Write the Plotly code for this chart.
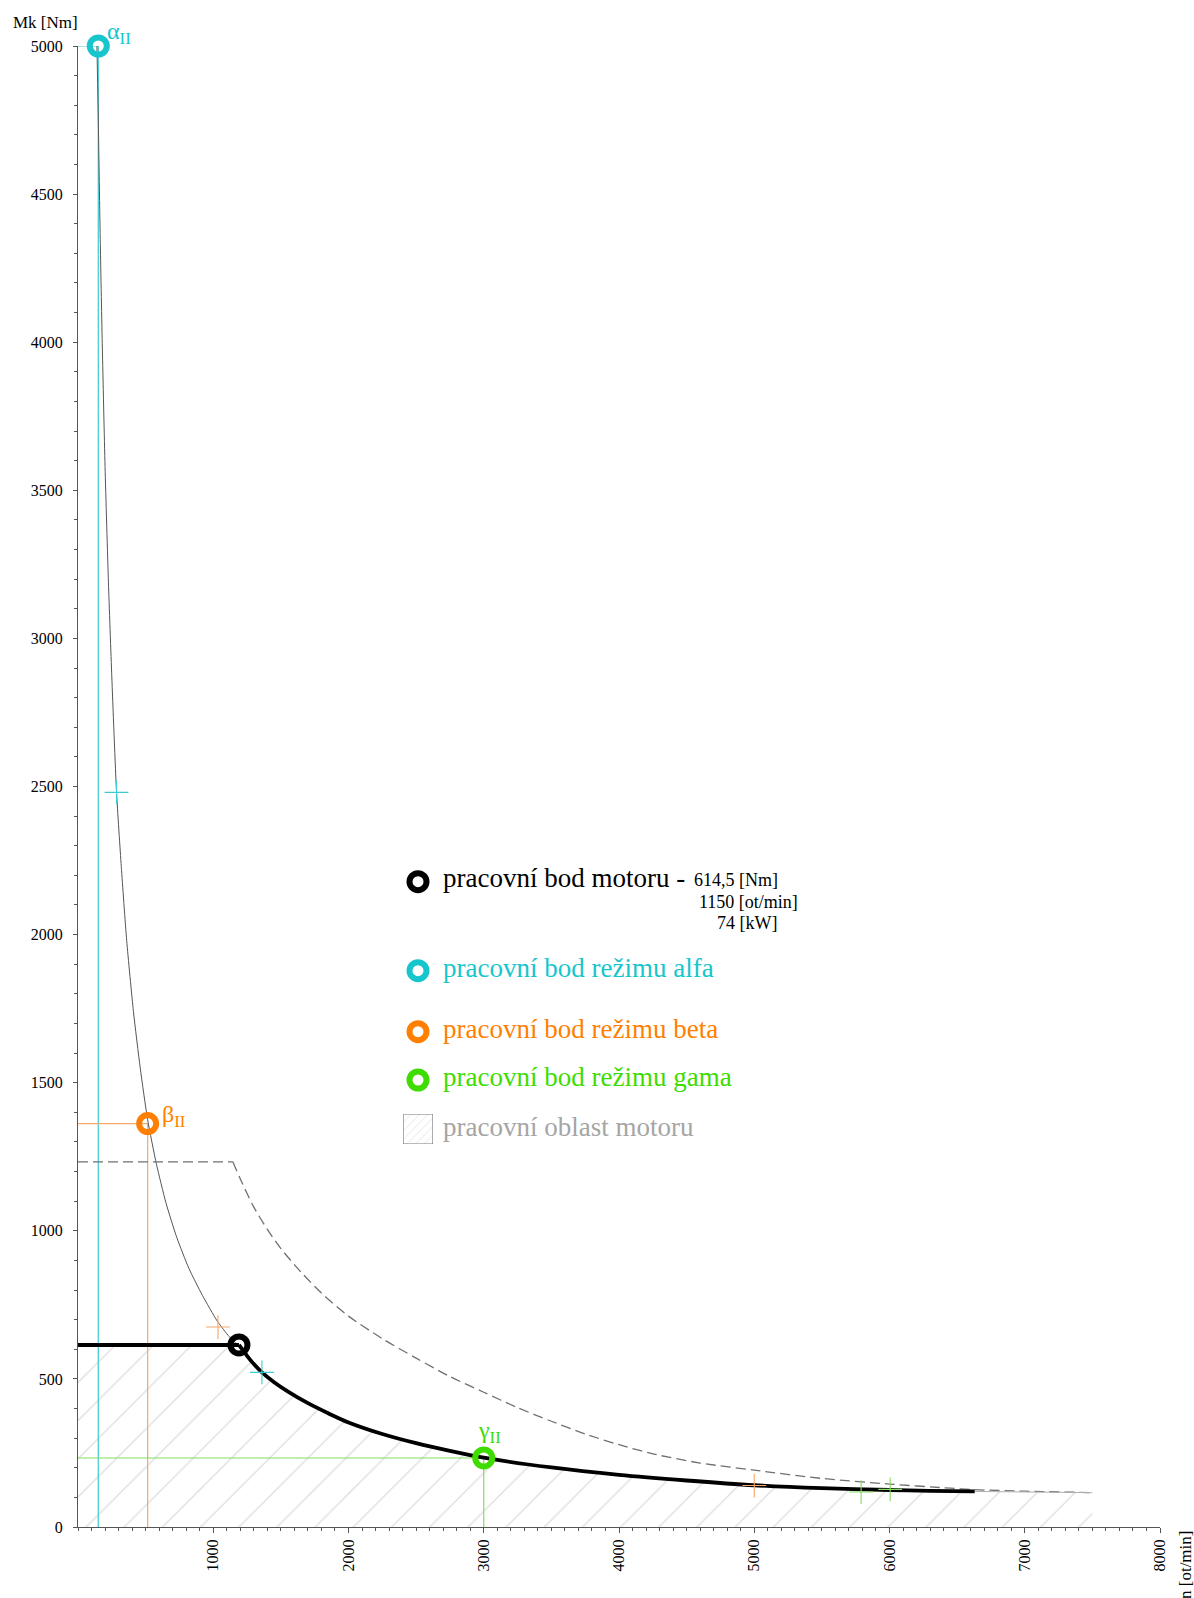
import plotly.graph_objects as go

# ---------------- data ----------------
x_tick_vals = [1000, 2000, 3000, 4000, 5000, 6000, 7000, 8000]
y_tick_vals = [0, 500, 1000, 1500, 2000, 2500, 3000, 3500, 4000, 4500, 5000]

# working points [ot/min, Nm]
alpha_pt = (150, 5000)
beta_pt = (515, 1362)
gamma_pt = (3000, 233)
motor_pt = (1190, 614.5)

# thin curve (constant power through the working points)
thin_n = [140, 150, 165, 180, 200, 225, 250, 285, 320, 360, 410, 460, 515, 580, 650, 730, 820, 920, 1030, 1120, 1190]
thin_M = [5000, 4750, 4330, 3980, 3580, 3190, 2870, 2480, 2230, 1980, 1740, 1550, 1375, 1225, 1095, 978, 873, 782, 695, 642, 612]

# motor characteristic (thick)
thick_flat_n = [0, 1190]
thick_flat_M = [614.5, 614.5]
thick_n = [1190, 1250, 1300, 1360, 1450, 1550, 1700, 1850, 2000, 2250, 2500, 2750, 3000, 3500, 4000, 4500, 5000, 5500, 6000, 6300, 6630]
thick_M = [614.5, 578, 550, 522, 489, 458, 418, 384, 353, 314, 283, 257, 234, 201, 176, 157, 141, 131, 125, 122, 120]

# extension of the working region to the max speed
ext_n = [6630, 7500]
ext_M = [120, 116]

# dashed maximum characteristic
dash_flat_n = [0, 1145]
dash_flat_M = [1233, 1233]
dash_n = [1145, 1200, 1300, 1400, 1500, 1650, 1800, 2000, 2250, 2500, 2750, 3000, 3250, 3500, 3750, 4000, 4250, 4600, 5000, 5500, 6000, 6450, 6630, 7000, 7500]
dash_M = [1233, 1175, 1080, 1005, 940, 860, 790, 712, 636, 570, 508, 455, 403, 357, 314, 278, 247, 216, 192, 164, 145, 131, 126, 121, 116]

# small crosses
cyan_cross_n = [285, 1360]
cyan_cross_M = [2480, 522]
orange_cross_n = [1035, 5000]
orange_cross_M = [675, 140]
green_cross_n = [5790, 6005]
green_cross_M = [118, 127]

# legend texts
legend_labels = ["pracovní bod motoru -", "pracovní bod režimu alfa", "pracovní bod režimu beta",
                 "pracovní bod režimu gama", "pracovní oblast motoru"]
motor_values = ["614,5 [Nm]", "1150 [ot/min]", "74 [kW]"]

# ---------------- styling ----------------
FONT = "Liberation Serif"
CYAN, CYAN_L = "#17C5CC", "#3FCAD2"
ORANGE, ORANGE_L = "#FF7F00", "#F5A86A"
GREEN, GREEN_L = "#3EDC00", "#86DB62"
GRAY_TXT = "#A5A5A5"
AXIS = "#555555"

W, H = 1194, 1598
L, R, T, B = 78, 34, 46, 71


def px_x(px):
    return (px - L) / (W - L - R)


def px_y(py):
    return (H - B - py) / (H - T - B)


fig = go.Figure()

# hatched working region
fill_n = [0] + thick_flat_n + thick_n[1:] + ext_n[1:] + [ext_n[-1], 0]
fill_M = [0] + thick_flat_M + thick_M[1:] + ext_M[1:] + [0, 0]
fig.add_trace(go.Scatter(
    x=fill_n, y=fill_M, mode="lines", fill="toself",
    line=dict(width=0, color="rgba(0,0,0,0)"),
    fillcolor="rgba(255,255,255,0)",
    fillpattern=dict(shape="/", size=27, solidity=0.05, fgcolor="#BDBDBD", bgcolor="rgba(255,255,255,0)"),
    hoverinfo="skip", showlegend=False))

# reference lines of working points
for (n, M), col in [(alpha_pt, CYAN_L), (beta_pt, ORANGE_L), (gamma_pt, GREEN_L)]:
    fig.add_trace(go.Scatter(x=[0, n, n], y=[M, M, 0], mode="lines",
                             line=dict(color=col, width=1.2), hoverinfo="skip",
                             showlegend=False, cliponaxis=False))

# thin constant power curve
fig.add_trace(go.Scatter(x=thin_n, y=thin_M, mode="lines",
                         line=dict(color="#555555", width=1, shape="spline", smoothing=0.6),
                         showlegend=False, cliponaxis=False))

# dashed max characteristic
fig.add_trace(go.Scatter(x=dash_flat_n, y=dash_flat_M, mode="lines",
                         line=dict(color="#707070", width=1.3, dash="10px,5px"), showlegend=False))
fig.add_trace(go.Scatter(x=dash_n, y=dash_M, mode="lines",
                         line=dict(color="#707070", width=1.3, dash="10px,5px", shape="spline", smoothing=0.8),
                         showlegend=False))
fig.add_trace(go.Scatter(x=ext_n, y=ext_M, mode="lines",
                         line=dict(color="#B0B0B0", width=1), showlegend=False))

# thick motor characteristic
fig.add_trace(go.Scatter(x=thick_flat_n, y=thick_flat_M, mode="lines",
                         line=dict(color="black", width=3.8), showlegend=False))
fig.add_trace(go.Scatter(x=thick_n, y=thick_M, mode="lines",
                         line=dict(color="black", width=3.8, shape="spline", smoothing=0.8),
                         showlegend=False))

# crosses
for xs, ys, col in [(cyan_cross_n, cyan_cross_M, CYAN_L), (orange_cross_n, orange_cross_M, ORANGE_L),
                    (green_cross_n, green_cross_M, GREEN_L)]:
    fig.add_trace(go.Scatter(x=xs, y=ys, mode="markers",
                             marker=dict(symbol="cross-thin", size=17, color=col,
                                         line=dict(color=col, width=1.1)),
                             showlegend=False))

# working point rings
for (n, M), col in [(motor_pt, "black"), (alpha_pt, CYAN), (beta_pt, ORANGE), (gamma_pt, GREEN)]:
    fig.add_trace(go.Scatter(x=[n], y=[M], mode="markers",
                             marker=dict(symbol="circle-open", size=17, color=col,
                                         line=dict(color=col, width=6)),
                             showlegend=False, cliponaxis=False))

# legend swatch (hatched box) on an extra small axis
fig.add_trace(go.Scatter(x=[0, 1, 1, 0, 0], y=[0, 0, 1, 1, 0], mode="lines", fill="toself",
                         xaxis="x2", yaxis="y2",
                         line=dict(color="#777777", width=1.2),
                         fillcolor="rgba(255,255,255,0)",
                         fillpattern=dict(shape="/", size=6, solidity=0.12, fgcolor="#BDBDBD",
                                          bgcolor="rgba(255,255,255,0)"),
                         showlegend=False, hoverinfo="skip"))

annotations = []
# point labels
annotations.append(dict(x=alpha_pt[0], y=alpha_pt[1], text="α<sub>II</sub>", showarrow=False,
                        xanchor="left", yanchor="middle", xshift=7, yshift=13,
                        font=dict(family=FONT, size=24, color=CYAN)))
annotations.append(dict(x=beta_pt[0], y=beta_pt[1], text="β<sub>II</sub>", showarrow=False,
                        xanchor="left", yanchor="middle", xshift=12, yshift=8,
                        font=dict(family=FONT, size=24, color=ORANGE)))
annotations.append(dict(x=gamma_pt[0], y=gamma_pt[1], text="γ<sub>II</sub>", showarrow=False,
                        xanchor="center", yanchor="bottom", xshift=6, yshift=9,
                        font=dict(family=FONT, size=24, color=GREEN)))

# axis titles
annotations.append(dict(xref="paper", yref="paper", x=px_x(45), y=px_y(22), text="Mk [Nm]",
                        showarrow=False, xanchor="center", yanchor="middle",
                        font=dict(family=FONT, size=17, color="black")))
annotations.append(dict(xref="paper", yref="paper", x=px_x(1185), y=px_y(1529), text="n [ot/min]",
                        showarrow=False, xanchor="center", yanchor="top", textangle=-90,
                        font=dict(family=FONT, size=17, color="black")))

# legend
legend_rows = [(881.7, "black", 878), (970.7, CYAN, 968), (1031.7, ORANGE, 1029), (1080, GREEN, 1077)]
shapes = []
for (my, col, ty), label in zip(legend_rows, legend_labels[:4]):
    shapes.append(dict(type="circle", xref="paper", yref="paper", xsizemode="pixel", ysizemode="pixel",
                       xanchor=px_x(418), yanchor=px_y(my), x0=-8.5, x1=8.5, y0=-8.5, y1=8.5,
                       line=dict(color=col, width=6)))
    annotations.append(dict(xref="paper", yref="paper", x=px_x(441), y=px_y(ty), text=label,
                            showarrow=False, xanchor="left", yanchor="middle",
                            font=dict(family=FONT, size=27, color=col)))
annotations.append(dict(xref="paper", yref="paper", x=px_x(441), y=px_y(1127), text=legend_labels[4],
                        showarrow=False, xanchor="left", yanchor="middle",
                        font=dict(family=FONT, size=27, color=GRAY_TXT)))
for (vx, vy), txt in zip([(692, 880), (697, 902), (715, 923)], motor_values):
    annotations.append(dict(xref="paper", yref="paper", x=px_x(vx), y=px_y(vy), text=txt,
                            showarrow=False, xanchor="left", yanchor="middle",
                            font=dict(family=FONT, size=18, color="black")))

fig.update_layout(
    width=W, height=H, autosize=False,
    margin=dict(l=L, r=R, t=T, b=B, pad=0),
    paper_bgcolor="white", plot_bgcolor="white",
    showlegend=False,
    font=dict(family=FONT, size=16, color="black"),
    xaxis=dict(range=[0, 8000], tickvals=x_tick_vals, ticktext=[str(v) for v in x_tick_vals],
               tickangle=-90, ticks="outside", ticklen=5, tickwidth=1.2, tickcolor=AXIS,
               showline=True, linecolor=AXIS, linewidth=1.2, showgrid=False, zeroline=False,
               minor=dict(dtick=100, ticks="outside", ticklen=3, tickcolor=AXIS, tickwidth=1, showgrid=False),
               tickfont=dict(family=FONT, size=16, color="black")),
    yaxis=dict(range=[0, 5000], tickvals=y_tick_vals, ticktext=[str(v) for v in y_tick_vals],
               ticks="outside", ticklen=4, tickwidth=1.2, tickcolor=AXIS,
               showline=True, linecolor=AXIS, linewidth=1.2, showgrid=False, zeroline=False,
               ticklabelstandoff=7,
               minor=dict(dtick=100, ticks="outside", ticklen=3, tickcolor=AXIS, tickwidth=1, showgrid=False),
               tickfont=dict(family=FONT, size=16, color="black")),
    xaxis2=dict(domain=[px_x(403), px_x(433)], range=[0, 1], visible=False, anchor="y2", fixedrange=True),
    yaxis2=dict(domain=[px_y(1144), px_y(1114)], range=[0, 1], visible=False, anchor="x2", fixedrange=True),
    annotations=annotations,
    shapes=shapes,
)

fig.write_html("out.html")
